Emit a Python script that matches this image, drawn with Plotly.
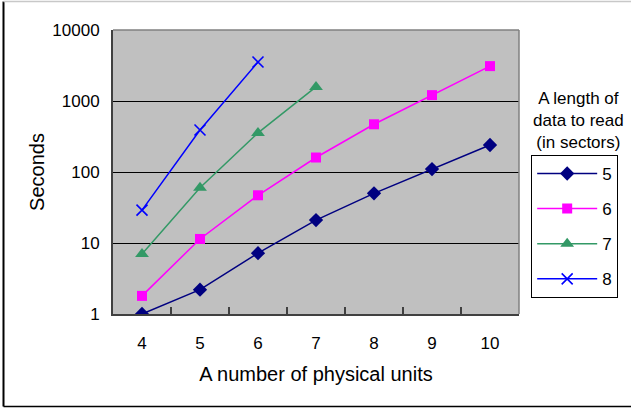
import plotly.graph_objects as go

units = ["4", "5", "6", "7", "8", "9", "10"]
s5 = [1.0, 2.2, 7.2, 21, 50, 110, 240]
s6 = [1.8, 11.4, 47, 160, 470, 1210, 3100]
s7 = [7.0, 60, 355, 1580]
s8 = [29, 390, 3540]
series_names = ["5", "6", "7", "8"]

FONT = "Liberation Sans"

fig = go.Figure()
specs = [
    (series_names[0], units, s5, "#000080", "diamond", 11, 0),
    (series_names[1], units, s6, "#FF00FF", "square", 10, 0),
    (series_names[2], units[:len(s7)], s7, "#339966", "triangle-up", 12, 0),
    (series_names[3], units[:len(s8)], s8, "#0000FF", "x-thin", 11, 1.6),
]
for name, xs, ys, col, sym, sz, lw in specs:
    fig.add_trace(go.Scatter(
        x=xs, y=ys, name=name, mode="lines+markers",
        line=dict(color=col, width=1.5),
        marker=dict(symbol=sym, size=sz, color=col, line=dict(color=col, width=lw)),
        legendgroup=name,
    ))

fig.update_layout(
    width=631, height=410,
    margin=dict(l=113, r=112, t=30, b=96),
    paper_bgcolor="white", plot_bgcolor="#C0C0C0",
    font=dict(family=FONT, size=17, color="black"),
    showlegend=True,
    legend=dict(
        x=1.03, y=0.56, xanchor="left", yanchor="top",
        bordercolor="black", borderwidth=1, bgcolor="white",
        font=dict(size=17), tracegroupgap=10, traceorder="grouped",
        itemwidth=60,
    ),
    xaxis=dict(
        type="category", categoryorder="array", categoryarray=units,
        range=[-0.5, 6.5], tickson="boundaries", ticks="inside", ticklen=7,
        tickcolor="#404040", tickwidth=1.5,
        showline=True, linecolor="#404040", linewidth=2,
        showgrid=False, zeroline=False, ticklabelstandoff=13,
        title=dict(text="A number of physical units", standoff=15),
    ),
    yaxis=dict(
        type="log", range=[0, 4], tickvals=[1, 10, 100, 1000, 10000],
        ticktext=["1", "10", "100", "1000", "10000"],
        showline=True, linecolor="#404040", linewidth=2,
        showgrid=True, gridcolor="black", gridwidth=1, ticks="",
        ticklabelstandoff=8,
        title=dict(text="Seconds", standoff=2),
    ),
    shapes=[
        dict(type="line", xref="paper", yref="paper", x0=0, x1=1, y0=1, y1=1,
             line=dict(color="#808080", width=1.5)),
        dict(type="line", xref="paper", yref="paper", x0=1, x1=1, y0=0, y1=1,
             line=dict(color="#808080", width=1.5)),
        dict(type="line", xref="paper", yref="paper", x0=-0.2697, x1=-0.2697, y0=-0.3257, y1=1.1,
             line=dict(color="black", width=2)),
        dict(type="line", xref="paper", yref="paper", x0=-0.2697, x1=1.3, y0=-0.3257, y1=-0.3257,
             line=dict(color="black", width=1.5)),
        dict(type="line", xref="paper", yref="paper", x0=-0.2697, x1=1.3, y0=1.1, y1=1.1,
             line=dict(color="#C8C8C8", width=1.5)),
    ],
    annotations=[
        dict(text="A length of<br>data to read<br>(in sectors)", xref="paper", yref="paper",
             x=1.146, y=0.68, xanchor="center", yanchor="middle", showarrow=False,
             font=dict(size=17), align="center"),
    ],
)

fig.write_html("out.html", config={"displayModeBar": False},
               post_script="document.body.style.margin='0px';")
